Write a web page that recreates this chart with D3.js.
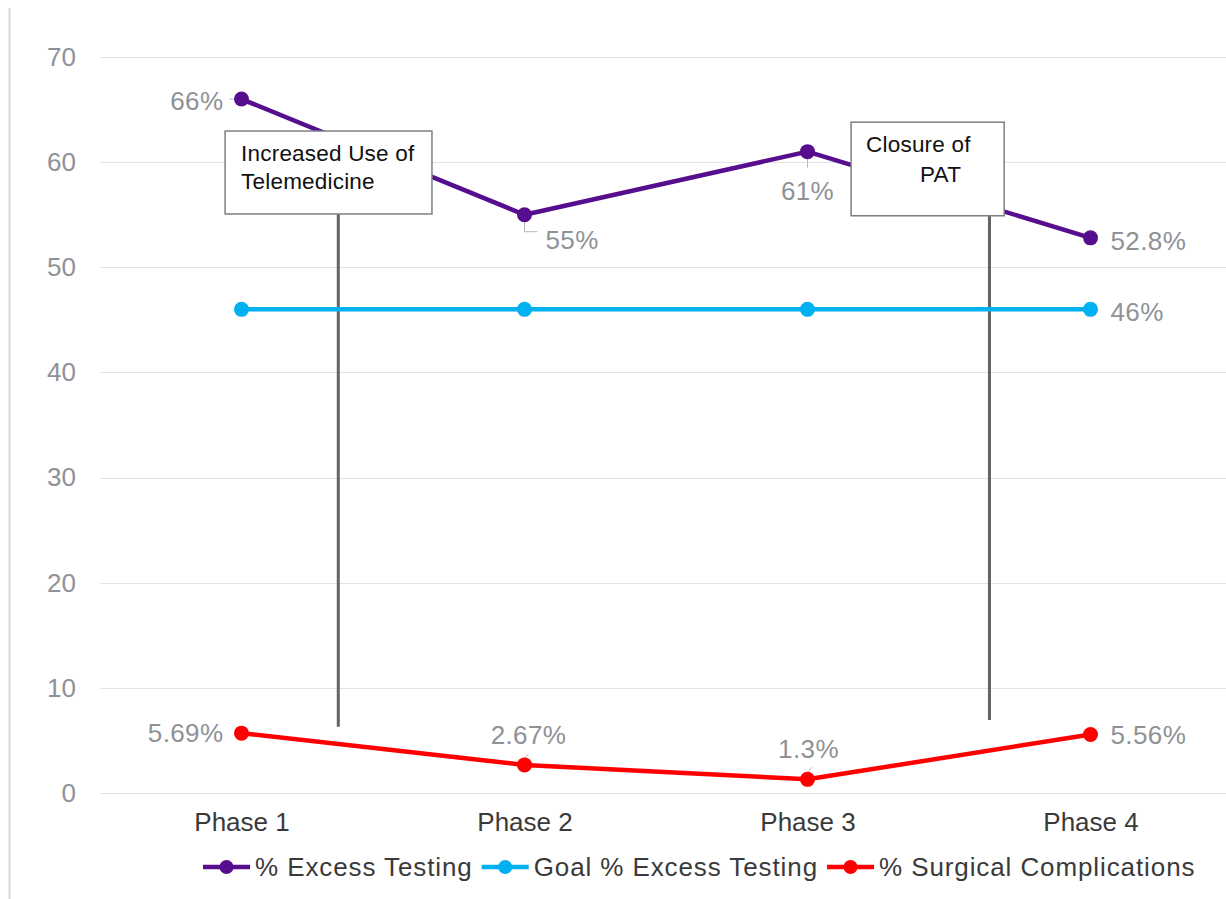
<!DOCTYPE html>
<html lang="en">
<head>
<meta charset="utf-8">
<title>Excess testing by phase</title>
<script src="https://cdn.jsdelivr.net/npm/d3@7"></script>
<style>
body { margin: 0; background: #fff; }
svg text { font-family: "Liberation Sans", Arial, sans-serif; }
</style>
</head>
<body>
<script>
// chart data
var phases = ["Phase 1", "Phase 2", "Phase 3", "Phase 4"];
var excessTesting = [66, 55, 61, 52.8];
var goalExcess = [46, 46, 46, 46];
var surgicalComp = [5.69, 2.67, 1.3, 5.56];
var yTicks = [0, 10, 20, 30, 40, 50, 60, 70];

var seriesNames = ["% Excess Testing", "Goal % Excess Testing", "% Surgical Complications"];
var seriesColors = ["#560d8e", "#00b0f0", "#ff0000"];

// label text per point ("" = no label)
var excessLabels = ["66%", "55%", "61%", "52.8%"];
var goalLabels = ["", "", "", "46%"];
var compLabels = ["5.69%", "2.67%", "1.3%", "5.56%"];

// annotations: x given as phase index, y as chart value
var notes = [
  { lines: ["Increased Use of", "Telemedicine"], x0: -0.058, x1: 0.673, yTop: 62.96, yBot: 55.07, lineX: 0.342, lineEnd: 6.3 },
  { lines: ["Closure of", "PAT"], x0: 2.154, x1: 2.695, yTop: 63.8, yBot: 54.9, lineX: 2.643, lineEnd: 6.95 }
];

var width = 1226, height = 899;
var svg = d3.select("body").append("svg")
  .attr("width", width)
  .attr("height", height);

var x = d3.scalePoint().domain(phases).range([100, 1232]).padding(0.5);
var y = d3.scaleLinear().domain([0, 70]).range([793, 57]);
var xi = function(i) { return x(phases[0]) + i * x.step(); };

// outer frame line on the left
svg.append("line")
  .attr("x1", 9.5).attr("x2", 9.5)
  .attr("y1", 8).attr("y2", height)
  .attr("stroke", "#d9d9d9").attr("stroke-width", 2);

// gridlines
svg.append("g").selectAll("line")
  .data(yTicks)
  .enter().append("line")
  .attr("x1", 100).attr("x2", width)
  .attr("y1", function(d) { return Math.round(y(d)) + 0.5; })
  .attr("y2", function(d) { return Math.round(y(d)) + 0.5; })
  .attr("stroke", "#e3e3e3").attr("stroke-width", 1.2);

// y axis labels
var yAxis = d3.axisLeft(y).tickValues(yTicks).tickSize(0).tickPadding(0);
var ya = svg.append("g").attr("transform", "translate(76,0)").call(yAxis);
ya.select(".domain").remove();
ya.selectAll("text")
  .attr("font-size", 26)
  .attr("fill", "#8e9297")
  .attr("font-family", "Liberation Sans, Arial, sans-serif");

// x axis labels
var xAxis = d3.axisBottom(x).tickSize(0).tickPadding(0);
var xa = svg.append("g").attr("transform", "translate(0,813)").call(xAxis);
xa.select(".domain").remove();
xa.selectAll("text")
  .attr("font-size", 26)
  .attr("fill", "#3a3a3a")
  .attr("font-family", "Liberation Sans, Arial, sans-serif");

// annotation vertical lines (drawn under series)
var noteG = svg.append("g");
noteG.selectAll("line")
  .data(notes)
  .enter().append("line")
  .attr("x1", function(d) { return xi(d.lineX); })
  .attr("x2", function(d) { return xi(d.lineX); })
  .attr("y1", function(d) { return y(d.yBot); })
  .attr("y2", function(d) { return y(d.lineEnd); })
  .attr("stroke", "#5f6469").attr("stroke-width", 3);

var series = [excessTesting, goalExcess, surgicalComp];
var labels = [excessLabels, goalLabels, compLabels];

// label placement (anchor, dx, dy) relative to each point
var labelPlace = [
  [["end", -18, 2], ["start", 21, 25], ["middle", 0, 39], ["start", 20, 3]],
  [null, null, null, ["start", 20, 3]],
  [["end", -18, 0], ["middle", 4, -30], ["middle", 1, -30], ["start", 20, 0]]
];

// small leader lines from labels to points [series, point, path offsets]
var leaders = [
  [0, 0, [[-12, 0], [-4, 0]]],
  [0, 1, [[0, 6], [0, 17], [13, 17]]],
  [0, 2, [[0, 5], [0, 16]]],
  [2, 1, [[0, -6], [4, -11]]],
  [2, 2, [[0, -6], [4, -12]]]
];

var line = d3.line()
  .x(function(d, i) { return x(phases[i]); })
  .y(function(d) { return y(d); });

svg.append("g").selectAll("path")
  .data(leaders)
  .enter().append("path")
  .attr("d", function(d) {
    var px = x(phases[d[1]]), py = y(series[d[0]][d[1]]);
    return "M" + d[2].map(function(p) { return (px + p[0]) + "," + (py + p[1]); }).join("L");
  })
  .attr("fill", "none").attr("stroke", "#b5b8bc").attr("stroke-width", 1);

series.forEach(function(vals, s) {
  var g = svg.append("g");
  g.append("path")
    .datum(vals)
    .attr("d", line)
    .attr("fill", "none")
    .attr("stroke", seriesColors[s])
    .attr("stroke-width", 4.5)
    .attr("stroke-linejoin", "round");
  g.selectAll("circle")
    .data(vals)
    .enter().append("circle")
    .attr("cx", function(d, i) { return x(phases[i]); })
    .attr("cy", function(d) { return y(d); })
    .attr("r", 7.5)
    .attr("fill", seriesColors[s]);
});

// annotation boxes drawn on top of series
var boxes = svg.append("g").selectAll("g")
  .data(notes)
  .enter().append("g");
boxes.append("rect")
  .attr("x", function(d) { return xi(d.x0); })
  .attr("y", function(d) { return y(d.yTop); })
  .attr("width", function(d) { return xi(d.x1) - xi(d.x0); })
  .attr("height", function(d) { return y(d.yBot) - y(d.yTop); })
  .attr("fill", "#fff")
  .attr("stroke", "#7c8186").attr("stroke-width", 1.5);
boxes.each(function(d, k) {
  var g = d3.select(this);
  var left = xi(d.x0), top = y(d.yTop);
  var offs = k === 0 ? [[16, 30], [16, 58]] : [[15, 30], [69, 60]];
  d.lines.forEach(function(t, j) {
    g.append("text")
      .attr("x", left + offs[j][0])
      .attr("y", top + offs[j][1])
      .attr("font-size", 22.5)
      .attr("letter-spacing", 0.2)
      .attr("fill", "#111")
      .text(t);
  });
});

// data labels
series.forEach(function(vals, s) {
  var pts = vals.map(function(v, i) { return { i: i, v: v }; })
    .filter(function(p) { return labels[s][p.i] !== ""; });
  svg.append("g").selectAll("text")
    .data(pts)
    .enter().append("text")
    .attr("x", function(p) { return x(phases[p.i]) + labelPlace[s][p.i][1]; })
    .attr("y", function(p) { return y(p.v) + labelPlace[s][p.i][2]; })
    .attr("dy", "0.35em")
    .attr("text-anchor", function(p) { return labelPlace[s][p.i][0]; })
    .attr("font-size", 26)
    .attr("letter-spacing", 0.4)
    .attr("fill", "#8e9297")
    .text(function(p) { return labels[s][p.i]; });
});

// legend
var legend = svg.append("g").attr("transform", "translate(203,867)");
var lx = 0;
seriesNames.forEach(function(name, s) {
  var item = legend.append("g").attr("transform", "translate(" + lx + ",0)");
  item.append("line")
    .attr("x1", 0).attr("x2", 47)
    .attr("stroke", seriesColors[s]).attr("stroke-width", 4.5);
  item.append("circle")
    .attr("cx", 23.5).attr("r", 7)
    .attr("fill", seriesColors[s]);
  var t = item.append("text")
    .attr("x", 52)
    .attr("dy", "0.35em")
    .attr("font-size", 26)
    .attr("letter-spacing", 0.9)
    .attr("fill", "#3a3a3a")
    .text(name);
  lx += 52 + t.node().getComputedTextLength() + 9;
});
</script>
</body>
</html>
